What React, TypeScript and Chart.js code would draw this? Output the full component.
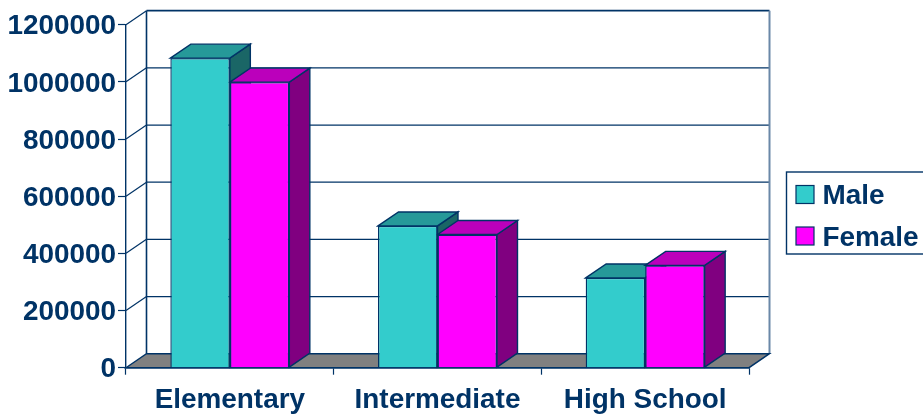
import React, { useEffect, useRef } from "react";
import { Chart, registerables } from "chart.js";

Chart.register(...registerables);

const categories = ["Elementary", "Intermediate", "High School"];
const maleValues = [1083000, 496000, 314000];
const femaleValues = [999000, 466000, 358000];
const seriesNames = ["Male", "Female"];
const tickStep = 200000;
const axisMax = 1200000;

const NAVY = "#003366";
const FONT = '"Liberation Sans", Arial, sans-serif';
const FONT_SIZE = 27.9;
const DEPTH_X = 20.5;
const DEPTH_Y = 14;

const faceColors = [
  { front: "#33CCCC", top: "#269999", side: "#1A6666" },
  { front: "#FF00FF", top: "#BB00BB", side: "#800080" },
];

function polygon(ctx: CanvasRenderingContext2D, pts: number[][], fill: string | null, stroke: string, lw: number) {
  ctx.beginPath();
  pts.forEach((p, i) => (i ? ctx.lineTo(p[0], p[1]) : ctx.moveTo(p[0], p[1])));
  ctx.closePath();
  if (fill) {
    ctx.fillStyle = fill;
    ctx.fill();
  }
  ctx.strokeStyle = stroke;
  ctx.lineWidth = lw;
  ctx.stroke();
}

function segment(ctx: CanvasRenderingContext2D, x1: number, y1: number, x2: number, y2: number, color: string, lw: number) {
  ctx.beginPath();
  ctx.moveTo(x1, y1);
  ctx.lineTo(x2, y2);
  ctx.strokeStyle = color;
  ctx.lineWidth = lw;
  ctx.stroke();
}

// Back wall, side wall and floor of the box, then the receding faces of each column.
const depthBox = {
  id: "depthBox",
  beforeDatasetsDraw(chart: any) {
    const { ctx, chartArea: a, scales } = chart;
    const yScale = scales.y;
    ctx.save();

    yScale.ticks.forEach((t: any, i: number) => {
      const y = yScale.getPixelForTick(i);
      if (t.value > 0 && t.value < axisMax) {
        segment(ctx, a.left + DEPTH_X, y - DEPTH_Y, a.right + DEPTH_X, y - DEPTH_Y, NAVY, 1.2);
      }
      if (t.value > 0) {
        segment(ctx, a.left, y, a.left + DEPTH_X, y - DEPTH_Y, NAVY, 1.2);
      }
    });

    segment(ctx, a.left + DEPTH_X, a.top - DEPTH_Y, a.right + DEPTH_X, a.top - DEPTH_Y, NAVY, 1.8);
    segment(ctx, a.left + DEPTH_X, a.top - DEPTH_Y, a.left + DEPTH_X, a.bottom - DEPTH_Y, NAVY, 1.6);
    segment(ctx, a.right + DEPTH_X, a.top - DEPTH_Y, a.right + DEPTH_X, a.bottom - DEPTH_Y, "#6A88A8", 2);

    polygon(
      ctx,
      [
        [a.left, a.bottom],
        [a.right, a.bottom],
        [a.right + DEPTH_X, a.bottom - DEPTH_Y],
        [a.left + DEPTH_X, a.bottom - DEPTH_Y],
      ],
      "#808080",
      NAVY,
      1.4
    );

    categories.forEach((_, c) => {
      chart.data.datasets.forEach((_d: any, s: number) => {
        const bar = chart.getDatasetMeta(s).data[c];
        const half = bar.width / 2;
        const l = bar.x - half;
        const r = bar.x + half;
        const colors = faceColors[s];
        polygon(
          ctx,
          [
            [r, bar.y],
            [r + DEPTH_X, bar.y - DEPTH_Y],
            [r + DEPTH_X, bar.base - DEPTH_Y],
            [r, bar.base],
          ],
          colors.side,
          NAVY,
          1.4
        );
        polygon(
          ctx,
          [
            [l, bar.y],
            [l + DEPTH_X, bar.y - DEPTH_Y],
            [r + DEPTH_X, bar.y - DEPTH_Y],
            [r, bar.y],
          ],
          colors.top,
          NAVY,
          1.4
        );
      });
    });
    ctx.restore();
  },
};

// Framed key to the right of the box, running off the edge of the canvas.
const framedKey = {
  id: "framedKey",
  afterDraw(chart: any) {
    const { ctx } = chart;
    ctx.save();
    ctx.strokeStyle = NAVY;
    ctx.lineWidth = 1.4;
    ctx.strokeRect(786.5, 172, 140, 82);
    chart.data.datasets.forEach((d: any, i: number) => {
      const top = 185.5 + i * 41.5;
      ctx.fillStyle = d.backgroundColor;
      ctx.fillRect(796, top, 18, 18);
      ctx.lineWidth = 1.2;
      ctx.strokeRect(796, top, 18, 18);
      ctx.fillStyle = NAVY;
      ctx.font = `bold ${FONT_SIZE}px ${FONT}`;
      ctx.textAlign = "left";
      ctx.textBaseline = "middle";
      ctx.fillText(d.label, 822.5, top + 11);
    });
    ctx.restore();
  },
};

export default function App() {
  const canvasRef = useRef<HTMLCanvasElement>(null);

  useEffect(() => {
    const chart = new Chart(canvasRef.current as HTMLCanvasElement, {
      type: "bar",
      data: {
        labels: categories,
        datasets: [
          {
            label: seriesNames[0],
            data: maleValues,
            backgroundColor: faceColors[0].front,
            borderColor: NAVY,
            borderWidth: 1.4,
          },
          {
            label: seriesNames[1],
            data: femaleValues,
            backgroundColor: faceColors[1].front,
            borderColor: NAVY,
            borderWidth: 1.4,
          },
        ],
      },
      options: {
        responsive: false,
        animation: false,
        layout: { padding: { top: 24.7, right: 174, left: 0, bottom: 0 } },
        plugins: {
          legend: { display: false },
          tooltip: { enabled: false },
        },
        datasets: { bar: { categoryPercentage: 0.573, barPercentage: 1 } },
        scales: {
          x: {
            afterFit(scale: any) {
              scale.height = 47.3;
            },
            grid: { drawOnChartArea: false, tickLength: 7, tickColor: NAVY, tickWidth: 1.2 },
            border: { display: true, color: NAVY, width: 1.4 },
            ticks: {
              color: NAVY,
              padding: 9,
              maxRotation: 0,
              font: { family: FONT, size: FONT_SIZE, weight: "bold" },
            },
          },
          y: {
            min: 0,
            max: axisMax,
            afterFit(scale: any) {
              scale.width = 126;
            },
            grid: { drawOnChartArea: false, tickLength: 8, tickColor: NAVY, tickWidth: 1.2 },
            border: { display: true, color: NAVY, width: 1.4 },
            ticks: {
              stepSize: tickStep,
              color: NAVY,
              padding: 2,
              labelOffset: 2,
              callback: (v: any) => String(v),
              font: { family: FONT, size: FONT_SIZE, weight: "bold" },
            },
          },
        },
      } as any,
      plugins: [depthBox, framedKey],
    });
    return () => chart.destroy();
  }, []);

  return (
    <div style={{ position: "absolute", left: 0, top: 0, width: 923, height: 415, background: "#fff" }}>
      <canvas ref={canvasRef} width={923} height={415} style={{ display: "block" }} />
    </div>
  );
}
